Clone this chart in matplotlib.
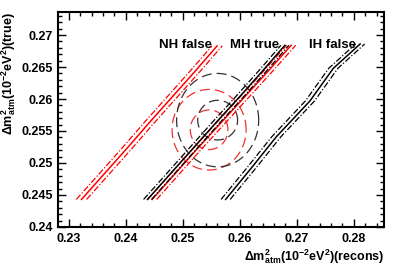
import numpy as np
import matplotlib
matplotlib.use("Agg")
import matplotlib.pyplot as plt
from matplotlib.ticker import MultipleLocator

plt.rcParams['font.family'] = ['Liberation Sans', 'DejaVu Sans']
plt.rcParams['font.weight'] = 'bold'
plt.rcParams['mathtext.fontset'] = 'custom'
plt.rcParams['mathtext.rm'] = 'Liberation Sans:bold'
plt.rcParams['mathtext.it'] = 'Liberation Sans:bold'
plt.rcParams['mathtext.bf'] = 'Liberation Sans:bold'

# center lines of the bands (recons x, true y)
nh_x = [0.2322, 0.2362, 0.2402, 0.2441, 0.2481, 0.2521, 0.2560]
nh_y = [0.2443, 0.2483, 0.2523, 0.2563, 0.2603, 0.2643, 0.2683]
mh_blk_x = [0.2438, 0.2478, 0.2518, 0.2558, 0.2599, 0.2639, 0.2679]
mh_blk_y = [0.2443, 0.2483, 0.2523, 0.2563, 0.2603, 0.2643, 0.2684]
mh_red_x = [0.2446, 0.2486, 0.2526, 0.2567, 0.2608, 0.2649, 0.2690]
mh_red_y = [0.2443, 0.2483, 0.2523, 0.2563, 0.2603, 0.2643, 0.2684]
ih_x = [0.2575, 0.2620, 0.2664, 0.2723, 0.2764, 0.2811]
ih_y = [0.2443, 0.2492, 0.2541, 0.2597, 0.2648, 0.2686]
band_half = [0.0009, 0.0007, 0.0008, 0.0008]  # NH, MH black, MH red, IH

# contour ellipses: center x, center y, radius x, radius y
blk_cx, blk_cy = 0.2561, 0.2567
blk_rx = [0.0035, 0.0072]
blk_ry = [0.0031, 0.0073]
red_cx, red_cy = 0.2546, 0.2552
red_rx = [0.0033, 0.0065]
red_ry = [0.0031, 0.0063]

labels = ['NH false', 'MH true', 'IH false']
label_x = [0.2504, 0.2626, 0.2763]

fig = plt.figure(figsize=(4.09, 2.67), dpi=100)
ax = fig.add_axes([0.142, 0.15, 0.797, 0.805])

dd = (0, (5, 1.5, 1, 1.5))


def band(x, y, hw, color, lw=1.1):
    x = np.array(x)
    ax.plot(x, y, color=color, lw=lw)
    ax.plot(x - hw, y, color=color, lw=0.9, linestyle=dd)
    ax.plot(x + hw, y, color=color, lw=0.9, linestyle=dd)


t = np.linspace(0, 2 * np.pi, 200)
for rx, ry in zip(red_rx, red_ry):
    ax.plot(red_cx + rx * np.cos(t), red_cy + ry * np.sin(t), color='#ee3333',
            lw=0.9, linestyle=(0, (8, 4)))
for rx, ry in zip(blk_rx, blk_ry):
    ax.plot(blk_cx + rx * np.cos(t), blk_cy + ry * np.sin(t), color='#333333',
            lw=0.9, linestyle=(0, (8, 4)))

band(nh_x, nh_y, band_half[0], 'red')
band(mh_red_x, mh_red_y, band_half[2], 'red')
band(mh_blk_x, mh_blk_y, band_half[1], 'black')
band(ih_x, ih_y, band_half[3], 'black')

for lx, lab in zip(label_x, labels):
    ax.text(lx, 0.2679, lab, ha='center', va='baseline', fontsize=9.5,
            fontweight='bold')

ax.set_xlim(0.2281, 0.2853)
ax.set_ylim(0.24, 0.2736)
ax.xaxis.set_minor_locator(MultipleLocator(0.002))
ax.yaxis.set_minor_locator(MultipleLocator(0.001))
ax.set_xticks([0.23, 0.24, 0.25, 0.26, 0.27, 0.28])
ax.set_xticklabels(['0.23', '0.24', '0.25', '0.26', '0.27', '0.28'])
ax.set_yticks([0.24, 0.245, 0.25, 0.255, 0.26, 0.265, 0.27])
ax.set_yticklabels(['0.24', '0.245', '0.25', '0.255', '0.26', '0.265', '0.27'])
ax.tick_params(which='both', direction='in', top=True, right=True, labelsize=9,
               width=1)
ax.tick_params(which='major', length=6)
ax.tick_params(which='minor', length=3)
ax.tick_params(axis='x', pad=4)
for lab in ax.get_xticklabels() + ax.get_yticklabels():
    lab.set_fontweight('bold')
for s in ax.spines.values():
    s.set_linewidth(1.5)

ax.set_xlabel(r'$\Delta$m$^{2}_{\mathrm{atm}}$(10$^{-2}$eV$^{2}$)(recons)',
              fontsize=9, fontweight='bold', ha='right', x=1.0, labelpad=2)
ax.set_ylabel(r'$\Delta$m$^{2}_{\mathrm{atm}}$(10$^{-2}$eV$^{2}$)(true)',
              fontsize=9, fontweight='bold', ha='right', y=1.0, labelpad=3)

fig.savefig('out.png', dpi=100)
